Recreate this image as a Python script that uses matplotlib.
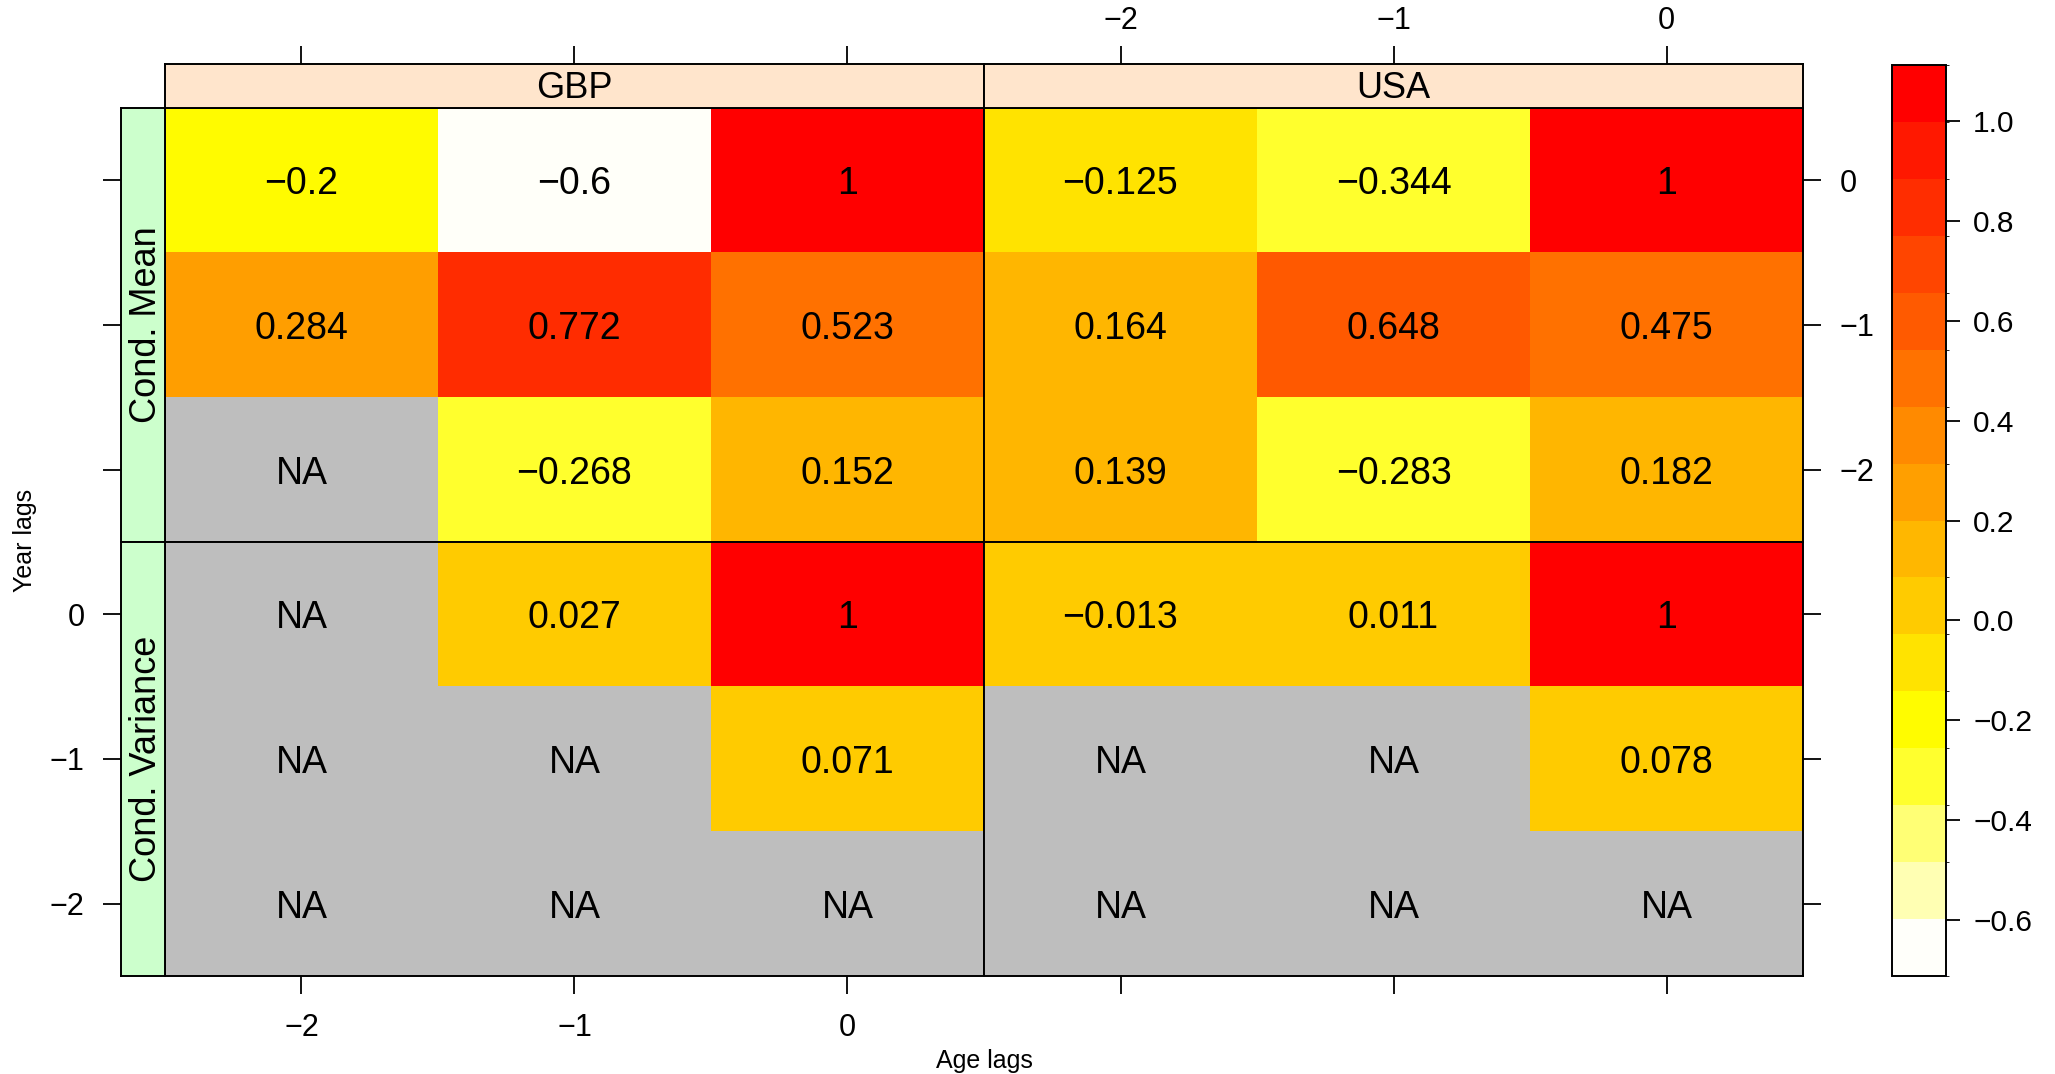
import numpy as np
import matplotlib
matplotlib.use("Agg")
import matplotlib.pyplot as plt
from matplotlib.colors import ListedColormap, BoundaryNorm
from matplotlib.transforms import offset_copy

plt.rcParams["font.family"] = ["Liberation Sans", "DejaVu Sans"]
plt.rcParams["axes.unicode_minus"] = True

W, H = 2055, 1074  # output size in pixels (dpi 100)

AGE_LAGS = [-2, -1, 0]
YEAR_LAGS = [0, -1, -2]  # top row first
COUNTRIES = ["GBP", "USA"]
MOMENTS = ["Cond. Mean", "Cond. Variance"]

NA = np.nan
gbp_mean = [[-0.2, -0.6, 1],
            [0.284, 0.772, 0.523],
            [NA, -0.268, 0.152]]
usa_mean = [[-0.125, -0.344, 1],
            [0.164, 0.648, 0.475],
            [0.139, -0.283, 0.182]]
gbp_var = [[NA, 0.027, 1],
           [NA, NA, 0.071],
           [NA, NA, NA]]
usa_var = [[-0.013, 0.011, 1],
           [NA, NA, 0.078],
           [NA, NA, NA]]

panels = {("Cond. Mean", "GBP"): gbp_mean, ("Cond. Mean", "USA"): usa_mean,
          ("Cond. Variance", "GBP"): gbp_var, ("Cond. Variance", "USA"): usa_var}

CBAR_TICKS = [-0.6, -0.4, -0.2, 0.0, 0.2, 0.4, 0.6, 0.8, 1.0]


def heat_colors(n):
    # R's heat.colors(n)
    j = n // 4
    i = n - j
    cols = []
    for k in range(i):
        g = k / (i - 1) if i > 1 else 0
        cols.append((1.0, g, 0.0))
    for s in np.linspace(1 - 1 / (2 * j), 1 / (2 * j), j):
        cols.append((1.0, 1.0, 1.0 - s))
    return cols


# 16 colour regions picked from rev(heat.colors(100)), like lattice does
all_vals = np.array([v for m in panels.values() for row in m for v in row], float)
zmin, zmax = np.nanmin(all_vals), np.nanmax(all_vals)
pad = 0.07 * (zmax - zmin)
n_regions = 16
breaks = np.linspace(zmin - pad, zmax + pad, n_regions + 1)
pal = heat_colors(100)[::-1]
idx = np.round(np.linspace(1, 100, n_regions)).astype(int) - 1
cmap = ListedColormap([pal[k] for k in idx])
cmap.set_bad("#BEBEBE")
norm = BoundaryNorm(breaks, cmap.N)


def rect(x0, y0, x1, y1):
    return [x0 / W, 1 - y1 / H, (x1 - x0) / W, (y1 - y0) / H]


def fmt(v):
    return f"{v:g}".replace("-", "\u2212")


col_x = [(165, 984), (984, 1803)]
row_y = [(108, 542), (542, 976)]
strip_top = (64, 108)
strip_left = (121, 165)

TICK_LEN = 13.3
TICK_W = 1.3
TICK_PAD = 13
TICK_FS = 22
LW = 1.4

fig = plt.figure(figsize=(W / 100, H / 100), dpi=100)

for r, moment in enumerate(MOMENTS):
    for c, country in enumerate(COUNTRIES):
        x0, x1 = col_x[c]
        y0, y1 = row_y[r]
        ax = fig.add_axes(rect(x0, y0, x1, y1))
        z = np.ma.masked_invalid(np.array(panels[(moment, country)], float))
        ax.imshow(z, cmap=cmap, norm=norm, interpolation="nearest",
                  extent=[-2.5, 0.5, -2.5, 0.5], origin="upper", aspect="auto")
        cell_tr = offset_copy(ax.transData, fig=fig, x=0, y=-4, units="dots")
        for i, yl in enumerate(YEAR_LAGS):
            for j, al in enumerate(AGE_LAGS):
                v = panels[(moment, country)][i][j]
                s = "NA" if np.isnan(v) else fmt(v)
                ax.text(al, yl, s, ha="center", va="center", fontsize=27,
                        transform=cell_tr)
        ax.set_xlim(-2.5, 0.5)
        ax.set_ylim(-2.5, 0.5)
        for sp in ax.spines.values():
            sp.set_linewidth(LW)
        ax.tick_params(length=TICK_LEN, width=TICK_W, pad=TICK_PAD,
                       labelsize=TICK_FS, direction="out")
        ax.set_xticks(AGE_LAGS)
        ax.set_yticks(YEAR_LAGS)
        # bottom ticks only on the lower row, labelled in the first column
        ax.tick_params(axis="x", bottom=(r == 1), top=False,
                       labelbottom=(r == 1 and c == 0), labeltop=False)
        # right ticks only on the second column, labelled in the top row
        ax.tick_params(axis="y", left=False, right=(c == 1),
                       labelleft=False, labelright=(c == 1 and r == 0))

        if r == 0:
            sax = fig.add_axes(rect(x0, strip_top[0], x1, strip_top[1]))
            sax.set_facecolor("#FFE5CC")
            sax.set_xlim(-2.5, 0.5)
            sax.set_ylim(0, 1)
            sax.text(0.5, 0.5, country, ha="center", va="center", fontsize=26,
                     transform=offset_copy(sax.transAxes, fig=fig, y=-3, units="dots"))
            sax.set_xticks(AGE_LAGS)
            sax.set_yticks([])
            sax.tick_params(axis="x", length=TICK_LEN, width=TICK_W, pad=7,
                            labelsize=TICK_FS, bottom=False, top=True,
                            labelbottom=False, labeltop=(c == 1))
            for sp in sax.spines.values():
                sp.set_linewidth(LW)

        if c == 0:
            lax = fig.add_axes(rect(strip_left[0], y0, strip_left[1], y1))
            lax.set_facecolor("#CCFFCC")
            lax.set_ylim(-2.5, 0.5)
            lax.set_xlim(0, 1)
            lax.text(0.5, 0.5, moment, rotation=90, ha="center", va="center",
                     fontsize=26,
                     transform=offset_copy(lax.transAxes, fig=fig, x=3, units="dots"))
            lax.set_yticks(YEAR_LAGS)
            lax.set_xticks([])
            lax.tick_params(axis="y", length=TICK_LEN, width=TICK_W, pad=TICK_PAD,
                            labelsize=TICK_FS, left=True, right=False,
                            labelleft=(r == 1))
            for sp in lax.spines.values():
                sp.set_linewidth(LW)

cax = fig.add_axes(rect(1892, 65, 1946, 976))
cb = fig.colorbar(plt.cm.ScalarMappable(norm=norm, cmap=cmap), cax=cax,
                  boundaries=breaks, ticks=CBAR_TICKS)
cb.ax.set_yticklabels([f"{t:.1f}".replace("-", "\u2212") for t in CBAR_TICKS])
cb.ax.tick_params(length=10, width=TICK_W, pad=9.5, labelsize=21.5)
cb.outline.set_linewidth(LW)

fig.text(984 / W, 1 - 1061 / H, "Age lags", ha="center", va="center", fontsize=18)
fig.text(25 / W, 1 - 540 / H, "Year lags", ha="center", va="center",
         rotation=90, fontsize=18)

fig.savefig("out.png", dpi=100)
